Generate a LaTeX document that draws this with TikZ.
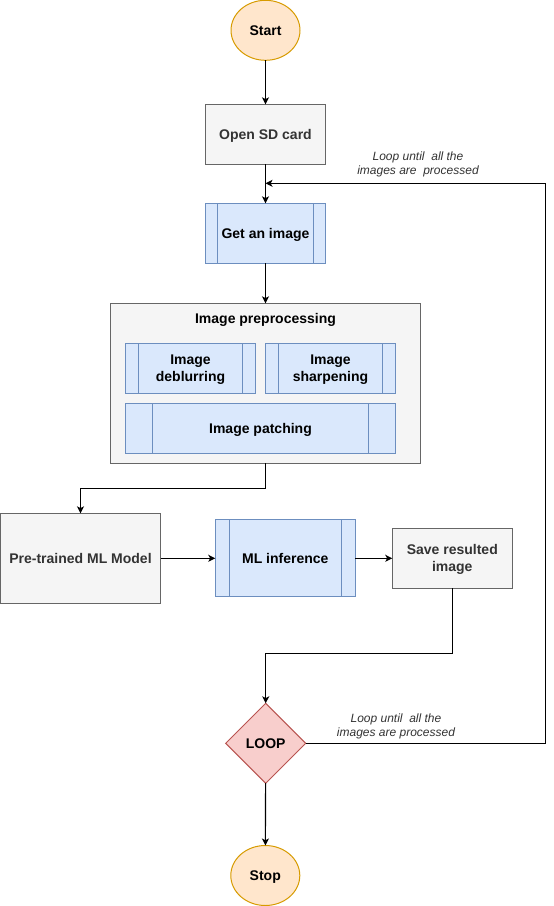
\documentclass[tikz,border=0pt]{standalone}
\usepackage{fontspec}
\setmainfont{Liberation Sans}
\usetikzlibrary{shapes.geometric,arrows.meta}
\definecolor{grayfill}{HTML}{F5F5F5}
\definecolor{grayline}{HTML}{666666}
\definecolor{bluefill}{HTML}{DAE8FC}
\definecolor{blueline}{HTML}{6C8EBF}
\definecolor{orfill}{HTML}{FFE6CC}
\definecolor{orline}{HTML}{D79B00}
\definecolor{redfill}{HTML}{F8CECC}
\definecolor{redline}{HTML}{B85450}
\definecolor{txtgray}{HTML}{333333}
\tikzset{
  base/.style={inner sep=0pt, outer sep=0pt, line width=1pt, align=center,
    text depth=0pt, font=\fontsize{14}{17}\selectfont\bfseries},
  graybox/.style={base, rectangle, draw=grayline, fill=grayfill, text=txtgray},
  procbox/.style={base, rectangle, draw=blueline, fill=bluefill, text=black,
    path picture={
      \draw[blueline, line width=1pt] ([xshift=#1]path picture bounding box.north west) -- ([xshift=#1]path picture bounding box.south west);
      \draw[blueline, line width=1pt] ([xshift=-#1]path picture bounding box.north east) -- ([xshift=-#1]path picture bounding box.south east);
    }},
  term/.style={base, ellipse, draw=orline, fill=orfill, text=black,
    minimum width=69pt, minimum height=60pt},
  decis/.style={base, diamond, draw=redline, fill=redfill, text=black,
    shape aspect=1, minimum size=80pt},
  conn/.style={line width=1.1pt, -{Stealth[length=7pt,width=7pt,inset=1.8pt]}},
  looplabel/.style={inner sep=0pt, align=center, text=txtgray,
    font=\fontsize{12}{14}\selectfont\itshape},
}
\begin{document}
\begin{tikzpicture}[x=1pt,y=-1pt]
\useasboundingbox (0,0) rectangle (554,906);
% nodes
\node[term] (start) at (265.5,30.3) {Start};
\node[graybox, minimum width=120pt, minimum height=60pt] (open) at (265.5,134.3) {Open SD card};
\node[procbox=12pt, minimum width=120pt, minimum height=60pt] (get) at (265.5,233.3) {Get an image};
\node[graybox, minimum width=310pt, minimum height=160pt] (pre) at (265.5,383.3) {};
\node[base, text=black] (pretitle) at (265.5,318.5) {Image preprocessing};
\node[procbox=13pt, minimum width=130pt, minimum height=50pt] (deblur) at (190.5,368.3) {Image\\deblurring};
\node[procbox=13pt, minimum width=130pt, minimum height=50pt] (sharp) at (330.5,368.3) {Image\\sharpening};
\node[procbox=27pt, minimum width=270pt, minimum height=50pt] (patch) at (260.5,428.3) {Image patching};
\node[graybox, minimum width=160pt, minimum height=90pt] (model) at (80.5,558.3) {Pre-trained ML Model};
\node[procbox=14pt, minimum width=140pt, minimum height=77pt] (infer) at (285.3,558.3) {ML inference};
\node[graybox, minimum width=120pt, minimum height=60pt] (save) at (452.3,558.3) {Save resulted\\image};
\node[decis] (loop) at (265.7,743.3) {LOOP};
\node[term] (stop) at (265.3,875.5) {Stop};
% labels
\node[looplabel] (lab1) at (418,164.5) {Loop until\ \ all the\\images are\ \ processed};
\node[looplabel] (lab2) at (396,726.5) {Loop until\ \ all the\\images are processed};
% helper coordinates
\coordinate (join) at (265.5,183.3);
\coordinate (rightup) at (545.5,183.3);
\coordinate (prebend) at (265.5,488.3);
\coordinate (savebend) at (452.3,653.3);
% connectors
\draw[conn] (start) -- (open);
\draw[conn] (open) -- (get);
\draw[conn] (get) -- (pre);
\draw[conn] (pre.south) -- (prebend) -| (model.north);
\draw[conn] (model) -- (infer);
\draw[conn] (infer) -- (save);
\draw[conn] (save.south) -- (savebend) -| (loop.north);
\draw[conn] (loop.east) -| (rightup) -- (join);
\draw[conn] (loop) -- (stop);
\end{tikzpicture}
\end{document}
